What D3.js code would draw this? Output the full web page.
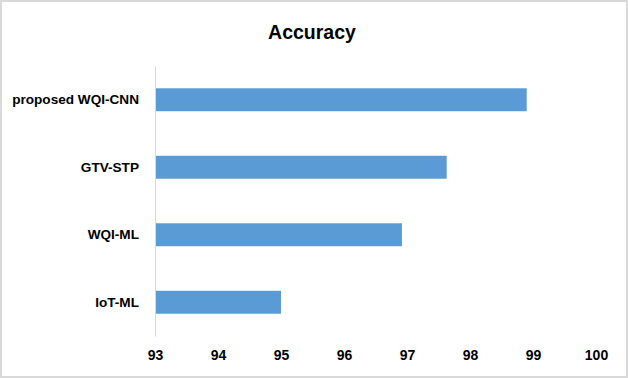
<!DOCTYPE html>
<html>
<head>
<meta charset="utf-8">
<script src="https://cdn.jsdelivr.net/npm/d3@7"></script>
<style>
  body { margin: 0; background: #fff; }
  text { font-family: "Liberation Sans", Arial, sans-serif; font-weight: bold; fill: #000; }
</style>
</head>
<body>
<div id="chart"></div>
<script>
// data
var categories = ["proposed WQI-CNN", "GTV-STP", "WQI-ML", "IoT-ML"];
var accuracy = [98.9, 97.63, 96.92, 95.0];
var xTicks = [93, 94, 95, 96, 97, 98, 99, 100];

var svgWidth = 628;
var svgHeight = 378;
var margin = { top: 66, bottom: 42, left: 155, right: 32 };
var width = svgWidth - margin.left - margin.right;
var height = svgHeight - margin.top - margin.bottom;

var svg = d3.select("#chart")
  .append("svg")
  .attr("width", svgWidth)
  .attr("height", svgHeight);

// outer frame
svg.append("rect")
  .attr("x", 1)
  .attr("y", 1)
  .attr("width", svgWidth - 2)
  .attr("height", svgHeight - 2)
  .attr("fill", "#fff")
  .attr("stroke", "#d9d9d9")
  .attr("stroke-width", 2);

svg.append("text")
  .attr("x", 312)
  .attr("y", 39)
  .attr("text-anchor", "middle")
  .attr("font-size", "19.5px")
  .text("Accuracy");

var chartGroup = svg.append("g")
  .attr("transform", `translate(${margin.left}, ${margin.top})`);

var xScale = d3.scaleLinear()
  .domain([93, 100])
  .range([0, width]);

var yScale = d3.scaleBand()
  .domain(categories)
  .range([0, height])
  .paddingInner(0.66)
  .paddingOuter(0.33);

// bars
chartGroup.selectAll("rect.bar")
  .data(categories)
  .enter()
  .append("rect")
  .attr("class", "bar")
  .attr("x", 0)
  .attr("y", d => yScale(d))
  .attr("width", (d, i) => xScale(accuracy[i]) - xScale(93))
  .attr("height", yScale.bandwidth())
  .attr("fill", "#5b9bd5");

// y axis: line + category labels
var leftAxis = d3.axisLeft(yScale).tickSize(0).tickPadding(16);
var yAxis = chartGroup.append("g").call(leftAxis);
yAxis.select(".domain").attr("stroke", "#d9d9d9").attr("stroke-width", 1);
yAxis.selectAll("text")
  .attr("font-size", "13.6px")
  .attr("font-family", "Liberation Sans, Arial, sans-serif")
  .attr("font-weight", "bold")
  .attr("fill", "#000");

// x axis: labels only
var bottomAxis = d3.axisBottom(xScale).tickValues(xTicks).tickFormat(d3.format("d")).tickSize(0).tickPadding(14);
var xAxis = chartGroup.append("g")
  .attr("transform", `translate(0, ${height})`)
  .call(bottomAxis);
xAxis.select(".domain").remove();
xAxis.selectAll("text")
  .attr("font-size", "14px")
  .attr("font-family", "Liberation Sans, Arial, sans-serif")
  .attr("font-weight", "bold")
  .attr("fill", "#000");
</script>
</body>
</html>
